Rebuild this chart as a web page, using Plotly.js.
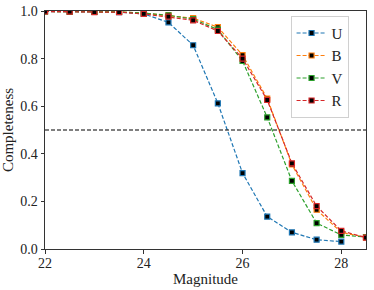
<!DOCTYPE html>
<html>
<head>
<meta charset="utf-8">
<script src="https://cdn.plot.ly/plotly-3.0.1.min.js"></script>
<style>html,body{margin:0;padding:0;background:#fff;}#chart{width:374px;height:290px;}</style>
</head>
<body>
<div id="chart"></div>
<script>
const magnitudes = [22, 22.5, 23, 23.5, 24, 24.5, 25, 25.5, 26, 26.5, 27, 27.5, 28, 28.5];
const magnitudesU = [22, 22.5, 23, 23.5, 24, 24.5, 25, 25.5, 26, 26.5, 27, 27.5, 28];
const seriesU = [0.998, 0.997, 0.996, 0.995, 0.988, 0.952, 0.856, 0.612, 0.319, 0.136, 0.070, 0.039, 0.031];
const seriesB = [0.998, 0.997, 0.996, 0.996, 0.991, 0.982, 0.970, 0.932, 0.815, 0.632, 0.355, 0.165, 0.070, 0.049];
const seriesV = [0.998, 0.997, 0.996, 0.996, 0.991, 0.982, 0.966, 0.922, 0.790, 0.553, 0.286, 0.109, 0.059, 0.050];
const seriesR = [0.998, 0.997, 0.995, 0.995, 0.988, 0.976, 0.961, 0.916, 0.800, 0.626, 0.360, 0.180, 0.076, 0.048];
const seriesNames = ['U', 'B', 'V', 'R'];
const seriesColors = ['#1f77b4', '#ff7f0e', '#2ca02c', '#d62728'];
const threshold = 0.5;

const xs = [magnitudesU, magnitudes, magnitudes, magnitudes];
const ys = [seriesU, seriesB, seriesV, seriesR];
const font = "'Liberation Serif', 'DejaVu Serif', serif";

const traces = seriesNames.map((n, i) => ({
  x: xs[i], y: ys[i], name: n, type: 'scatter', mode: 'lines+markers',
  line: {color: seriesColors[i], dash: '4px,2px', width: 1.2},
  marker: {symbol: 'square', size: 5, color: '#000', line: {color: seriesColors[i], width: 1.2}}
}));

const layout = {
  width: 374, height: 290,
  margin: {l: 45, r: 8, t: 11, b: 41},
  paper_bgcolor: '#fff', plot_bgcolor: '#fff',
  font: {family: font, size: 14, color: '#222'},
  showlegend: true,
  legend: {x: 0.765, y: 0.98, xanchor: 'left', yanchor: 'top', bgcolor: 'rgba(255,255,255,0.9)',
           bordercolor: '#d0d0d0', borderwidth: 1, font: {family: font, size: 15, color: '#222'},
           tracegroupgap: 0, itemwidth: 30},
  xaxis: {range: [22, 28.5], tickvals: [22, 24, 26, 28], ticktext: ['22','24','26','28'],
          showgrid: false, zeroline: false, showline: true, mirror: true, linecolor: '#333', linewidth: 1,
          ticks: 'outside', ticklen: 3.5, tickcolor: '#333', ticklabelstandoff: -2,
          tickfont: {family: font, size: 14, color: '#222'},
          title: {text: 'Magnitude', font: {family: font, size: 15, color: '#222'}, standoff: 0}},
  yaxis: {range: [0, 1], tickvals: [0, 0.2, 0.4, 0.6, 0.8, 1.0], ticktext: ['0.0','0.2','0.4','0.6','0.8','1.0'],
          showgrid: false, zeroline: false, showline: true, mirror: true, linecolor: '#333', linewidth: 1,
          ticks: 'outside', ticklen: 3.5, tickcolor: '#333',
          tickfont: {family: font, size: 14, color: '#222'},
          title: {text: 'Completeness', font: {family: font, size: 15, color: '#222'}, standoff: 2}},
  shapes: [{type: 'line', xref: 'paper', x0: 0, x1: 1, yref: 'y', y0: threshold, y1: threshold,
            line: {color: '#000', width: 1.1, dash: '4px,2px'}}]
};

Plotly.newPlot('chart', traces, layout, {displayModeBar: false, staticPlot: true});
</script>
</body>
</html>
